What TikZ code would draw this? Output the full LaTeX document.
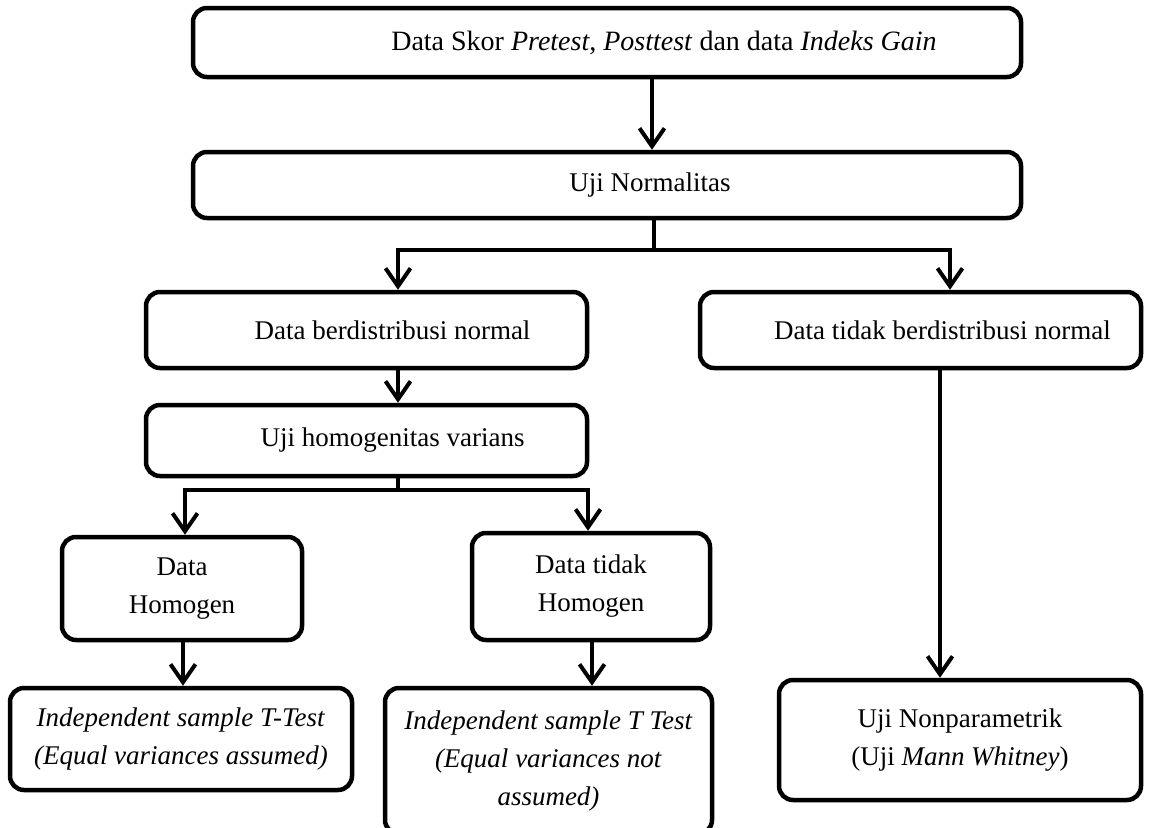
\documentclass[tikz,border=0pt]{standalone}
\usepackage{fontspec}
\setmainfont{Liberation Serif}
\usetikzlibrary{arrows.meta}
\begin{document}
\begin{tikzpicture}[x=1pt,y=-1pt,
  txt/.style={align=center, font=\fontsize{27}{38}\selectfont, inner sep=0pt},
  box/.style={draw, line width=4.5pt, rounded corners=14pt, txt},
  conn/.style={line width=4pt, line join=miter},
  tip/.tip={Straight Barb[length=18pt,width=25pt,line width=4pt]},
  arr/.style={conn, -tip},
  arrs/.style={conn, tip-tip}]
\useasboundingbox (0,0) rectangle (1161,827);
\clip (0,0) rectangle (1161,827);

\node[box, minimum width=828pt, minimum height=69pt,
  label={[txt, font=\fontsize{28}{38}\selectfont, xshift=57pt]center:Data Skor \textit{Pretest}, \textit{Posttest} dan data \textit{Indeks Gain}}]
  (b1) at (607,42.5) {};
\node[box, minimum width=828pt, minimum height=66pt,
  label={[txt, xshift=43pt]center:Uji Normalitas}] (b2) at (607,185) {};
\node[box, minimum width=441pt, minimum height=76pt,
  label={[txt, xshift=26pt]center:Data berdistribusi normal}] (b3) at (366.5,330) {};
\node[box, minimum width=441pt, minimum height=76pt,
  label={[txt, xshift=22pt]center:Data tidak berdistribusi normal}] (b4) at (920.5,330) {};
\node[box, minimum width=441pt, minimum height=71pt,
  label={[txt, xshift=26pt]center:Uji homogenitas varians}] (b5) at (366.5,440.5) {};
\node[box, minimum width=240pt, minimum height=103pt] (b6) at (182,588.5)
  {Data\\Homogen};
\node[box, minimum width=238pt, minimum height=107pt] (b7) at (591,586.5)
  {Data tidak\\Homogen};
\node[box, minimum width=342pt, minimum height=102pt] (b8) at (181,739)
  {\textit{Independent sample T-Test}\\\textit{(Equal variances assumed)}};
\node[box, minimum width=327pt, minimum height=146pt] (b9) at (548.5,761)
  {\textit{Independent sample T Test}\\\textit{(Equal variances not}\\\textit{assumed)}};
\node[box, minimum width=362pt, minimum height=120pt] (b10) at (960,740)
  {Uji Nonparametrik\\(Uji \textit{Mann Whitney})};

% connectors
\draw[arr] (b1.south -| 652,0) -- (b2.north -| 652,0);
\coordinate (j1) at (654,250);
\coordinate (hL) at (398,250);
\coordinate (hR) at (950,250);
\draw[conn] (b2.south -| j1) -- (j1);
\draw[arrs] (b3.north -| hL) -- (hL) -- (hR) -- (b4.north -| hR);
\draw[arr] (b3.south -| 398,0) -- (b5.north -| 398,0);
\coordinate (j2) at (398,490);
\coordinate (gL) at (185,490);
\coordinate (gR) at (588,490);
\draw[conn] (b5.south -| j2) -- (j2);
\draw[arrs] (b6.north -| gL) -- (gL) -- (gR) -- (b7.north -| gR);
\draw[arr] (b6.south -| 183,0) -- (b8.north -| 183,0);
\draw[arr] (b7.south -| 592,0) -- (b9.north -| 592,0);
\draw[arr] (b4.south -| 940,0) -- (b10.north -| 940,0);
\end{tikzpicture}
\end{document}
